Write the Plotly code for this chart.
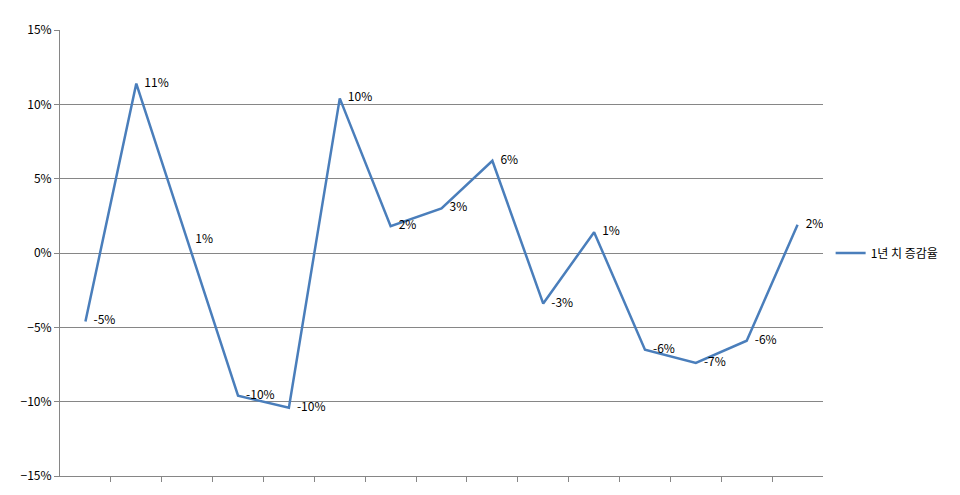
import plotly.graph_objects as go

periods = list(range(1, 16))
change_rate = [-0.046, 0.114, 0.009, -0.096, -0.104, 0.104, 0.018, 0.030,
               0.062, -0.034, 0.014, -0.065, -0.074, -0.059, 0.019]
labels = [f"{round(v * 100):.0f}%" for v in change_rate]

fig = go.Figure()
fig.add_trace(go.Scatter(
    x=periods, y=change_rate, mode="lines+text", name="1년 치 증감율",
    text=["   " + t for t in labels], textposition="middle right",
    textfont=dict(size=12, color="black"),
    line=dict(color="#4a7ebb", width=2.5),
))
fig.update_layout(
    width=960, height=495,
    margin=dict(l=52, r=145, t=14, b=27),
    showlegend=True,
    paper_bgcolor="white", plot_bgcolor="white",
    font=dict(family="Noto Sans CJK KR, Arial", size=12, color="black"),
    legend=dict(x=1.01, y=0.5, yanchor="middle", bgcolor="rgba(0,0,0,0)"),
    xaxis=dict(range=[0.5, 15.5], showticklabels=False, showgrid=False,
               showline=True, linecolor="#868686", ticks="outside",
               tickvals=[x + 0.5 for x in periods[:-1]], ticklen=5,
               tickcolor="#868686", zeroline=False),
    yaxis=dict(range=[-0.15, 0.15], dtick=0.05, tickformat=".0%",
               showgrid=True, gridcolor="#868686", gridwidth=1,
               showline=True, linecolor="#868686", ticks="outside",
               tickcolor="#868686", ticklen=5, zeroline=False),
)
fig.write_html("out.html")
